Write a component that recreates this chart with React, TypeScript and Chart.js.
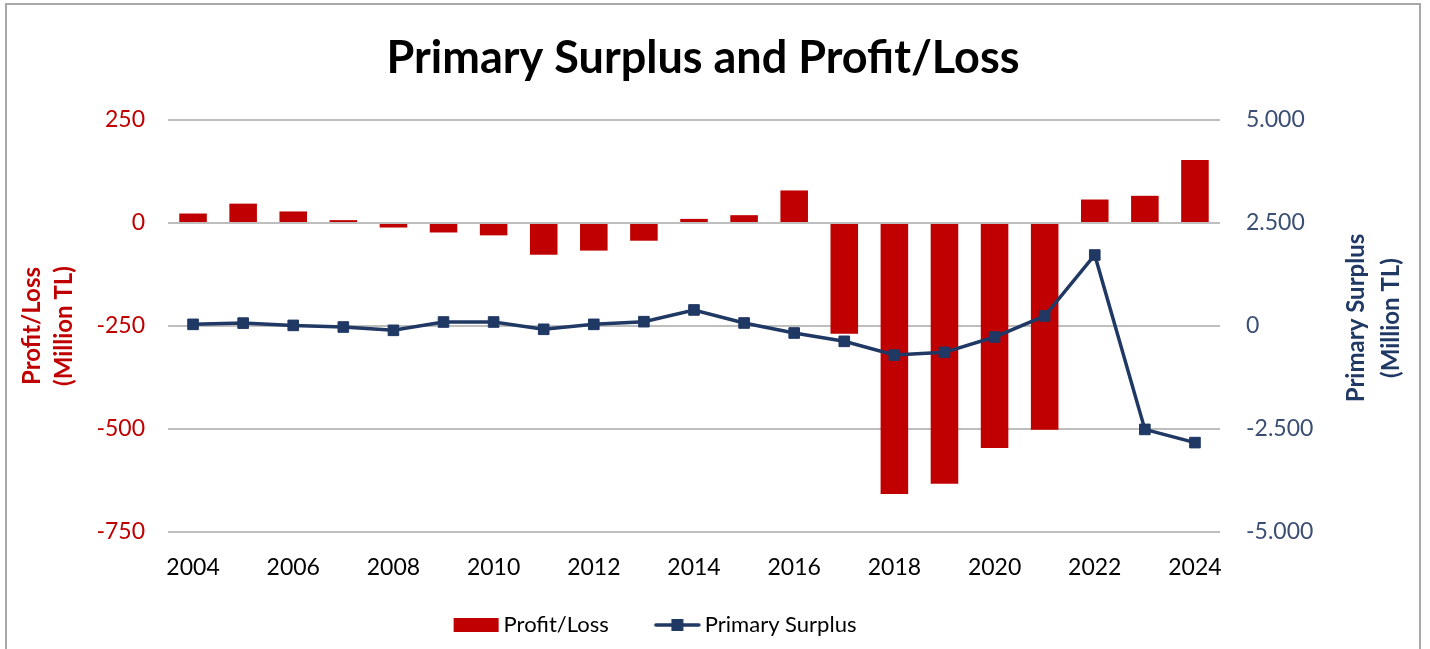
import React, { useEffect, useRef } from 'react';
import { Chart, registerables } from 'chart.js';

Chart.register(...registerables);

const years = ['2004', '2005', '2006', '2007', '2008', '2009', '2010', '2011', '2012', '2013', '2014', '2015', '2016', '2017', '2018', '2019', '2020', '2021', '2022', '2023', '2024'];
const profitLoss = [23, 47, 28, 7, -11, -23, -30, -77, -67, -43, 10, 19, 79, -269, -658, -633, -546, -502, 57, 66, 153];
const primarySurplus = [40, 70, 15, -25, -105, 97, 97, -80, 40, 105, 390, 73, -170, -372, -705, -640, -267, 243, 1723, -2510, -2830];
const xTickLabels = ['2004', '2006', '2008', '2010', '2012', '2014', '2016', '2018', '2020', '2022', '2024'];
const leftTicks = [-750, -500, -250, 0, 250];
const leftTickLabels = ['-750', '-500', '-250', '0', '250'];
const rightTicks = [-5000, -2500, 0, 2500, 5000];
const rightTickLabels = ['-5.000', '-2.500', '0', '2.500', '5.000'];
const titleText = 'Primary Surplus and Profit/Loss';
const leftTitle = ['Profit/Loss', '(Million TL)'];
const rightTitle = ['Primary Surplus', '(Million TL)'];
const seriesNames = ['Profit/Loss', 'Primary Surplus'];

const RED = '#c00000';
const NAVY = '#203864';
const FONT = 'Lato';

export default function App() {
  const canvasRef = useRef<HTMLCanvasElement | null>(null);

  useEffect(() => {
    const canvas = canvasRef.current;
    if (!canvas) return;

    // legend swatches (image width 95, centred on a 75px legend box)
    const barImg = document.createElement('canvas');
    barImg.width = 95;
    barImg.height = 14;
    const bctx = barImg.getContext('2d')!;
    bctx.fillStyle = RED;
    bctx.fillRect(46, 0, 45, 14);

    const lineImg = document.createElement('canvas');
    lineImg.width = 95;
    lineImg.height = 14;
    const lctx = lineImg.getContext('2d')!;
    lctx.strokeStyle = NAVY;
    lctx.lineWidth = 3.5;
    lctx.lineCap = 'round';
    lctx.beginPath();
    lctx.moveTo(47, 7);
    lctx.lineTo(90, 7);
    lctx.stroke();
    lctx.fillStyle = NAVY;
    lctx.fillRect(62.5, 1, 12, 12);

    const shiftBoxes = {
      id: 'shiftBoxes',
      afterLayout(chart: any) {
        const lg = chart.legend;
        if (lg) {
          lg.left -= 78;
          lg.right -= 78;
        }
        const tb = chart.titleBlock;
        if (tb) {
          tb.left -= 12;
          tb.right -= 12;
        }
      },
    };

    const axisTitles = {
      id: 'axisTitles',
      afterDraw(chart: any) {
        const { ctx, chartArea } = chart;
        const cy = (chartArea.top + chartArea.bottom) / 2;
        ctx.save();
        ctx.font = `bold 24px ${FONT}`;
        ctx.textAlign = 'center';
        ctx.textBaseline = 'middle';
        ctx.fillStyle = RED;
        ctx.save();
        ctx.translate(32, cy);
        ctx.rotate(-Math.PI / 2);
        ctx.fillText(leftTitle[0], 0, 0);
        ctx.fillText(leftTitle[1], 0, 32);
        ctx.restore();
        ctx.fillStyle = NAVY;
        ctx.save();
        ctx.translate(1356, cy - 8);
        ctx.rotate(-Math.PI / 2);
        ctx.fillText(rightTitle[0], 0, 0);
        ctx.fillText(rightTitle[1], 0, 35);
        ctx.restore();
        ctx.restore();
      },
    };

    const chart = new Chart(canvas, {
      type: 'bar',
      data: {
        labels: years,
        datasets: [
          {
            type: 'line',
            label: seriesNames[1],
            data: primarySurplus,
            yAxisID: 'y1',
            borderColor: NAVY,
            backgroundColor: NAVY,
            borderWidth: 3.5,
            pointStyle: 'rect',
            pointRadius: 7.5,
            pointBorderWidth: 1,
            pointBackgroundColor: NAVY,
            pointBorderColor: NAVY,
            tension: 0,
            order: 0,
          } as any,
          {
            type: 'bar',
            label: seriesNames[0],
            data: profitLoss,
            yAxisID: 'y',
            backgroundColor: RED,
            borderWidth: 0,
            barPercentage: 0.55,
            categoryPercentage: 1,
            order: 1,
          } as any,
        ],
      },
      options: {
        responsive: false,
        animation: false,
        layout: { padding: { top: 0, left: 0, right: 0, bottom: 3 } },
        plugins: {
          tooltip: { enabled: false },
          title: {
            display: true,
            text: titleText,
            color: '#000000',
            font: { family: FONT, size: 45, weight: 'bold', lineHeight: 1.2 },
            padding: { top: 31, bottom: 35 },
          },
          legend: {
            display: true,
            position: 'bottom',
            labels: {
              usePointStyle: true,
              pointStyleWidth: 75,
              boxHeight: 14,
              padding: 10,
              color: '#000000',
              font: { family: FONT, size: 22 },
              generateLabels: () => [
                {
                  text: seriesNames[0],
                  pointStyle: barImg,
                  fillStyle: RED,
                  strokeStyle: RED,
                  lineWidth: 0,
                  hidden: false,
                  datasetIndex: 1,
                  fontColor: '#000000',
                } as any,
                {
                  text: seriesNames[1],
                  pointStyle: lineImg,
                  fillStyle: NAVY,
                  strokeStyle: NAVY,
                  lineWidth: 0,
                  hidden: false,
                  datasetIndex: 0,
                  fontColor: '#000000',
                } as any,
              ],
            },
          },
        },
        scales: {
          x: {
            type: 'category',
            offset: true,
            grid: { display: false, drawTicks: false },
            border: { display: false },
            ticks: {
              autoSkip: false,
              maxRotation: 0,
              minRotation: 0,
              padding: 22,
              color: '#000000',
              font: { family: FONT, size: 23 },
              callback: (_v: any, idx: number) => (xTickLabels.includes(years[idx]) ? years[idx] : ''),
            },
            afterFit: (scale: any) => {
              scale.height = 72;
            },
          },
          y: {
            type: 'linear',
            position: 'left',
            min: -750,
            max: 250,
            grid: { display: true, color: '#bebebe', lineWidth: 2, drawTicks: false },
            border: { display: false },
            afterBuildTicks: (scale: any) => {
              scale.ticks = leftTicks.map((v) => ({ value: v }));
            },
            ticks: {
              padding: 23,
              color: RED,
              font: { family: FONT, size: 23 },
              callback: (v: any) => leftTickLabels[leftTicks.indexOf(Number(v))],
            },
            afterFit: (scale: any) => {
              scale.width = 168;
            },
          },
          y1: {
            type: 'linear',
            position: 'right',
            min: -5000,
            max: 5000,
            grid: { display: false, drawTicks: false },
            border: { display: false },
            afterBuildTicks: (scale: any) => {
              scale.ticks = rightTicks.map((v) => ({ value: v }));
            },
            ticks: {
              padding: 26,
              color: '#3b4e74',
              font: { family: FONT, size: 23 },
              callback: (v: any) => rightTickLabels[rightTicks.indexOf(Number(v))],
            },
            afterFit: (scale: any) => {
              scale.width = 210;
            },
          },
        },
      },
      plugins: [shiftBoxes, axisTitles],
    });

    return () => {
      chart.destroy();
    };
  }, []);

  return (
    <>
      <div
        style={{
          position: 'fixed',
          left: 5,
          top: 3,
          width: 1416,
          height: 700,
          border: '2px solid #a8a8a8',
          boxSizing: 'border-box',
          background: '#ffffff',
        }}
      />
      <canvas
        ref={canvasRef}
        width={1430}
        height={649}
        style={{ position: 'fixed', left: 0, top: 0, width: 1430, height: 649 }}
      />
    </>
  );
}
